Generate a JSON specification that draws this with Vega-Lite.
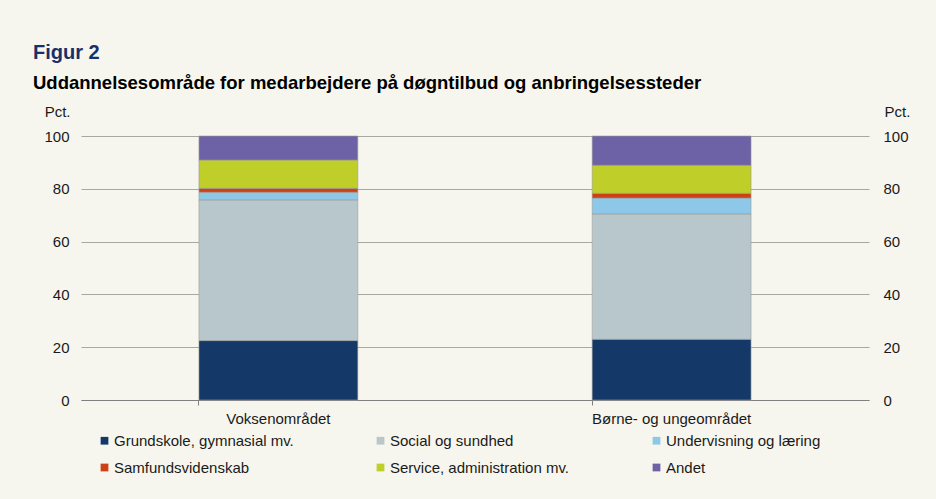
{
  "$schema": "https://vega.github.io/schema/vega-lite/v6.json",
  "width": 788,
  "height": 264,
  "autosize": {"type": "none"},
  "padding": {"left": 81, "top": 136, "right": 67, "bottom": 99},
  "background": "#F7F6EE",
  "title": {
    "text": "Figur 2",
    "subtitle": "Uddannelsesområde for medarbejdere på døgntilbud og anbringelsessteder",
    "anchor": "start",
    "frame": "group",
    "dx": -48,
    "offset": 12,
    "font": "Liberation Sans",
    "fontSize": 20,
    "fontWeight": "bold",
    "color": "#18306A",
    "subtitleFont": "Liberation Sans",
    "subtitleFontSize": 18.5,
    "subtitleFontWeight": "bold",
    "subtitleColor": "#000000",
    "subtitlePadding": 11
  },
  "data": {
    "values": [
      {"omraade": "Voksenområdet", "kategori": "Grundskole, gymnasial mv.", "o": 1, "pct": 22.5},
      {"omraade": "Voksenområdet", "kategori": "Social og sundhed", "o": 2, "pct": 53.3},
      {"omraade": "Voksenområdet", "kategori": "Undervisning og læring", "o": 3, "pct": 2.9},
      {"omraade": "Voksenområdet", "kategori": "Samfundsvidenskab", "o": 4, "pct": 1.5},
      {"omraade": "Voksenområdet", "kategori": "Service, administration mv.", "o": 5, "pct": 10.7},
      {"omraade": "Voksenområdet", "kategori": "Andet", "o": 6, "pct": 9.1},
      {"omraade": "Børne- og ungeområdet", "kategori": "Grundskole, gymnasial mv.", "o": 1, "pct": 23.0},
      {"omraade": "Børne- og ungeområdet", "kategori": "Social og sundhed", "o": 2, "pct": 47.5},
      {"omraade": "Børne- og ungeområdet", "kategori": "Undervisning og læring", "o": 3, "pct": 6.0},
      {"omraade": "Børne- og ungeområdet", "kategori": "Samfundsvidenskab", "o": 4, "pct": 1.8},
      {"omraade": "Børne- og ungeområdet", "kategori": "Service, administration mv.", "o": 5, "pct": 10.6},
      {"omraade": "Børne- og ungeområdet", "kategori": "Andet", "o": 6, "pct": 11.1}
    ]
  },
  "encoding": {
    "x": {
      "field": "omraade",
      "type": "nominal",
      "sort": null,
      "scale": {"paddingInner": 0.596, "paddingOuter": 0.3},
      "axis": {
        "title": null,
        "labelAngle": 0,
        "labelFontSize": 15,
        "labelColor": "#1a1a1a",
        "labelPadding": 6,
        "bandPosition": 0,
        "ticks": true,
        "tickSize": 5,
        "tickColor": "#808080",
        "domainColor": "#808080",
        "grid": false
      }
    },
    "y": {
      "field": "pct",
      "type": "quantitative",
      "stack": "zero",
      "scale": {"domain": [0, 100], "nice": false}
    },
    "color": {
      "field": "kategori",
      "type": "nominal",
      "scale": {
        "domain": ["Grundskole, gymnasial mv.", "Social og sundhed", "Undervisning og læring", "Samfundsvidenskab", "Service, administration mv.", "Andet"],
        "range": ["#143968", "#B8C7CC", "#8DC8E8", "#CC4115", "#BFCE28", "#6E62A6"]
      },
      "legend": {
        "title": null,
        "orient": "none",
        "legendX": 16,
        "legendY": 297,
        "direction": "horizontal",
        "columns": 3,
        "gridAlign": "all",
        "columnPadding": 79,
        "rowPadding": 11,
        "symbolType": "square",
        "symbolSize": 60,
        "symbolStrokeWidth": 0,
        "labelFontSize": 15,
        "labelColor": "#1a1a1a",
        "labelOffset": 2,
        "labelLimit": 300
      }
    },
    "order": {"field": "o", "type": "quantitative"}
  },
  "layer": [
    {
      "mark": {"type": "bar", "stroke": "#9a9a9a", "strokeWidth": 0.6},
      "encoding": {
        "y": {
          "field": "pct",
          "type": "quantitative",
          "stack": "zero",
          "axis": {
            "orient": "left",
            "values": [0, 20, 40, 60, 80, 100],
            "title": "Pct.",
            "titleAngle": 0,
            "titleAlign": "right",
            "titleBaseline": "middle",
            "titleX": -11,
            "titleY": -25,
            "titleFontSize": 15,
            "titleFontWeight": "normal",
            "titleColor": "#1a1a1a",
            "labelFontSize": 15,
            "labelColor": "#1a1a1a",
            "labelPadding": 12,
            "ticks": false,
            "domain": false,
            "grid": true,
            "gridColor": "#A8A8A0",
            "gridWidth": 1.2
          }
        }
      }
    },
    {
      "mark": {"type": "bar", "opacity": 0},
      "encoding": {
        "y": {
          "field": "pct",
          "type": "quantitative",
          "stack": "zero",
          "axis": {
            "orient": "right",
            "values": [0, 20, 40, 60, 80, 100],
            "title": "Pct.",
            "titleAngle": 0,
            "titleAlign": "left",
            "titleBaseline": "middle",
            "titleX": 15,
            "titleY": -25,
            "titleFontSize": 15,
            "titleFontWeight": "normal",
            "titleColor": "#1a1a1a",
            "labelFontSize": 15,
            "labelColor": "#1a1a1a",
            "labelPadding": 14,
            "ticks": false,
            "domain": false,
            "grid": false
          }
        }
      }
    }
  ],
  "resolve": {"axis": {"y": "independent"}},
  "config": {
    "font": "Liberation Sans",
    "view": {"stroke": null}
  }
}
